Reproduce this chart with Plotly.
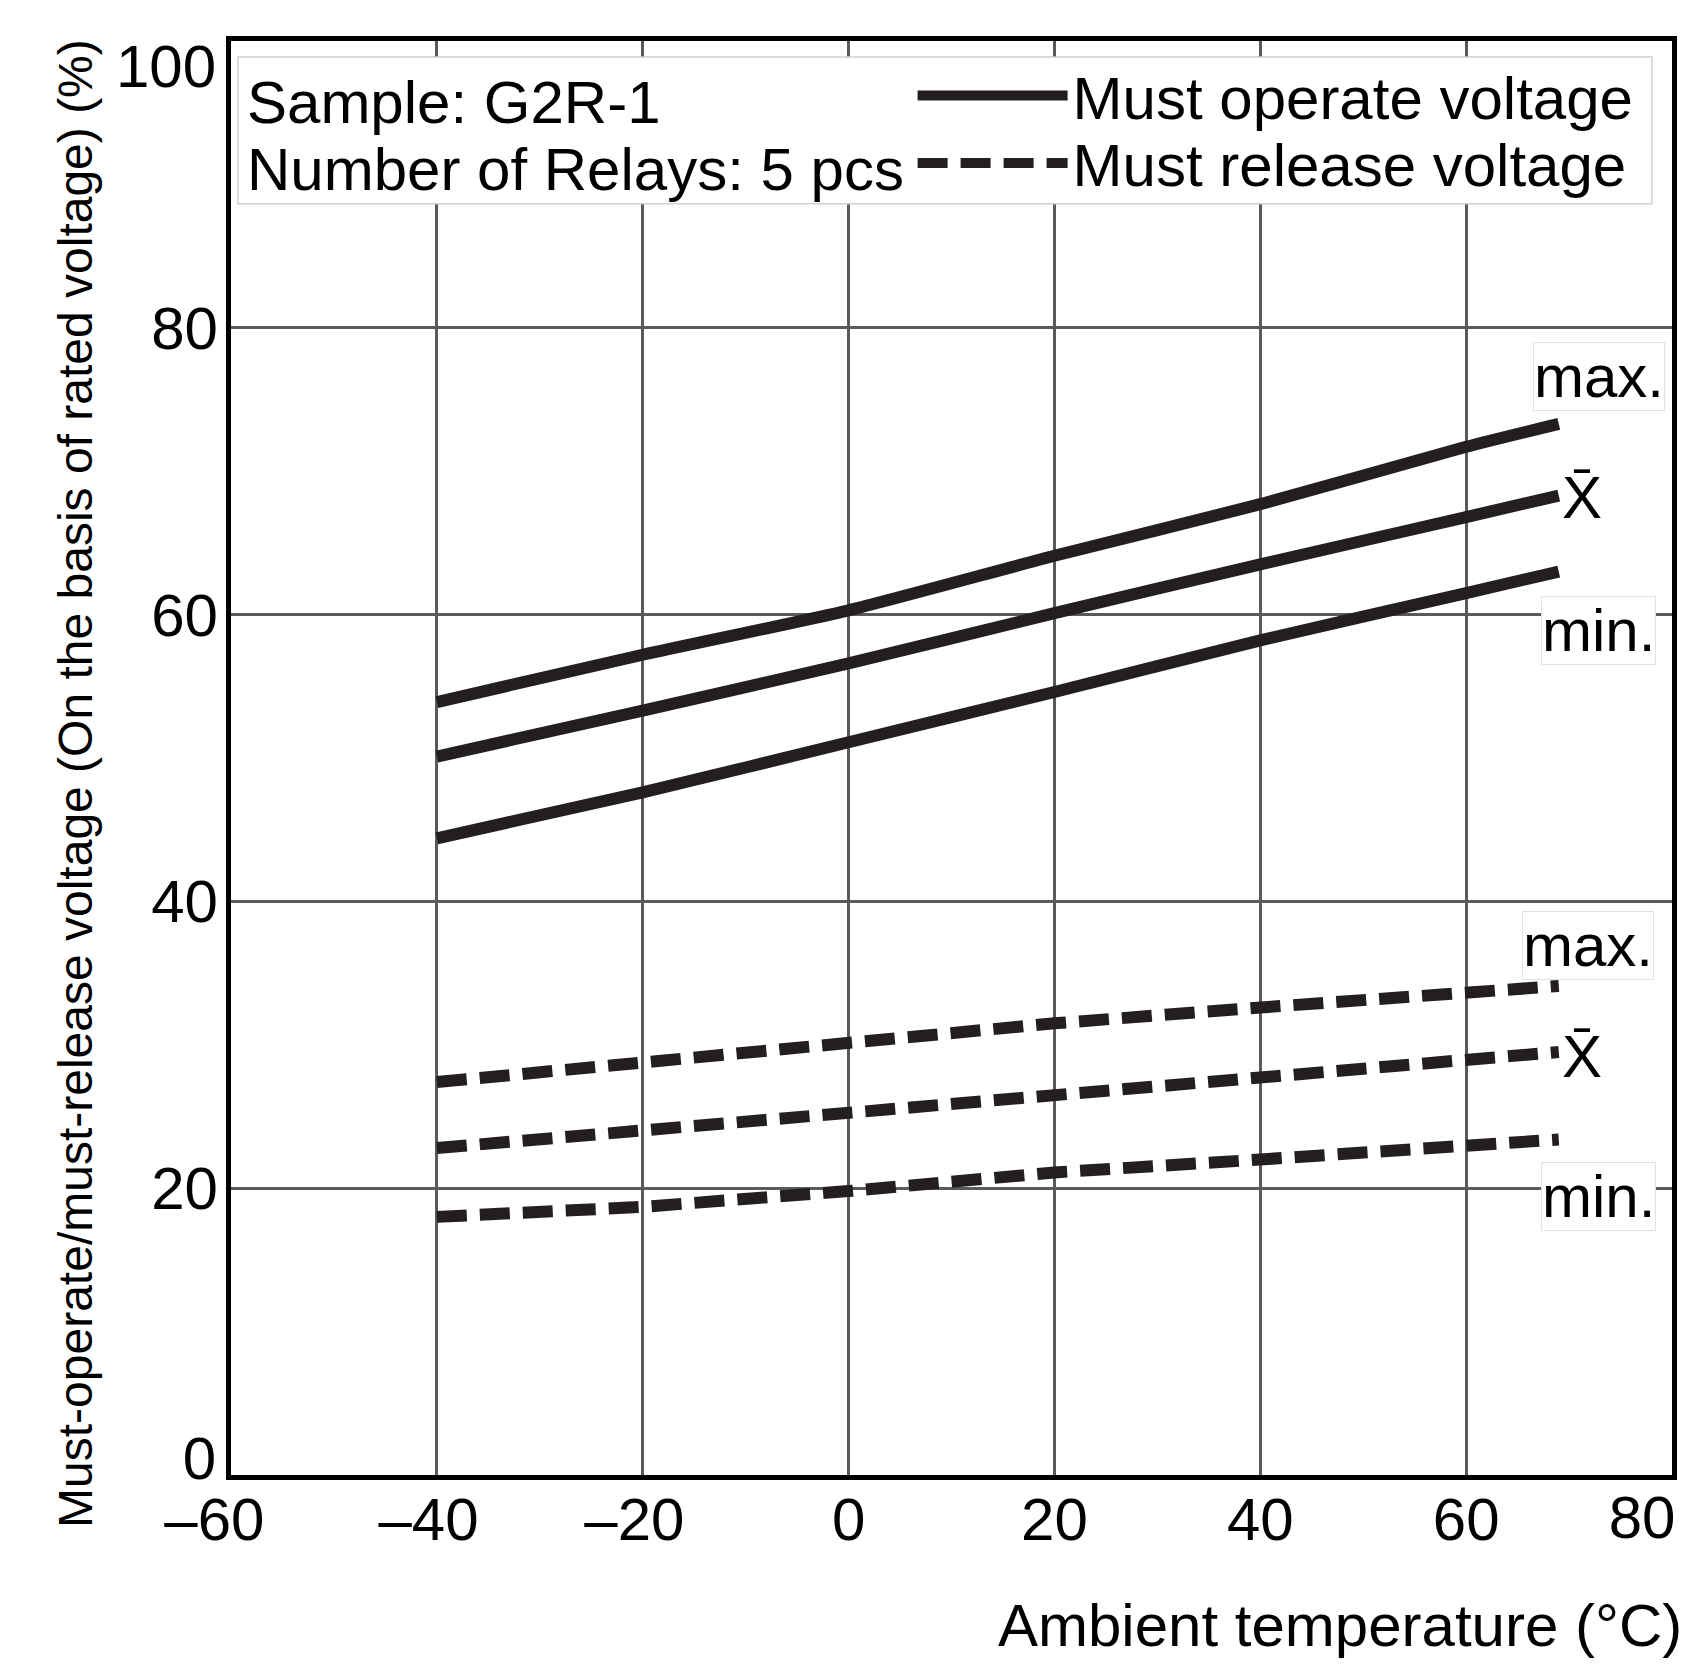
import plotly.graph_objects as go

temps = [-40, -20, 0, 20, 40, 60, 69]
operate_max = [53.9, 57.2, 60.3, 64.1, 67.7, 71.7, 73.3]
operate_mean = [50.1, 53.3, 56.6, 60.1, 63.5, 66.8, 68.3]
operate_min = [44.4, 47.6, 51.1, 54.6, 58.2, 61.5, 63.0]
release_max = [27.4, 28.8, 30.2, 31.5, 32.6, 33.7, 34.1]
release_mean = [22.8, 24.0, 25.3, 26.6, 27.8, 29.0, 29.5]
release_min = [18.0, 18.7, 19.8, 21.1, 22.0, 23.0, 23.4]

x_ticks_main = [-60, -40, -20, 0, 20, 40, 60]
x_ticktext_main = ["\u201360\u00a0\u00a0", "\u201340\u00a0", "\u201320\u00a0", "0", "20", "40", "60"]
x_tick_end = [80]
y_ticks_mid = [20, 40, 60, 80]
y_tick_bottom = [0]
y_tick_top = [100]

FONT = "Liberation Sans, Arial, Helvetica, sans-serif"
LINE_COLOR = "#231f20"
FS = 60

fig = go.Figure()

op_series = [operate_max, operate_mean, operate_min]
for i, ys in enumerate(op_series):
    fig.add_trace(go.Scatter(
        x=temps, y=ys, mode="lines",
        line=dict(color=LINE_COLOR, width=12, shape="spline", smoothing=0.6),
        name="Must operate voltage", legend="legend", legendgroup="op", showlegend=(i == 0),
    ))

# release curves (spread over overlaid axes that carry the edge tick labels)
rel_series = [(release_max, "x", "y2"), (release_mean, "x", "y3"), (release_min, "x2", "y")]
for i, (ys, xa, ya) in enumerate(rel_series):
    fig.add_trace(go.Scatter(
        x=temps, y=ys, mode="lines", xaxis=xa, yaxis=ya,
        line=dict(color=LINE_COLOR, width=12, dash="30px,13px"),
        name="Must release voltage", legend="legend2", legendgroup="rel", showlegend=(i == 0),
    ))

W, H = 1694, 1673
L, R, T, B = 231, 22, 41, 198

tickfont = dict(family=FONT, size=FS, color="black")
axis_common = dict(
    showline=True, linecolor="black", linewidth=5, mirror=True,
    showgrid=True, gridcolor="#5a5a5a", gridwidth=3, zeroline=False,
    ticks="", tickfont=tickfont, automargin=False,
)

label_font = dict(family=FONT, size=FS, color="black")
annotations = [
    dict(x=1.008, y=-0.105, xref="paper", yref="paper", xanchor="right", yanchor="middle",
         text="Ambient temperature (\u00b0C)", showarrow=False, font=label_font),
    dict(x=-0.1075, y=0.482, xref="paper", yref="paper", xanchor="center", yanchor="middle",
         textangle=-90, text="Must-operate/must-release voltage (On the basis of rated voltage) (%)",
         showarrow=False, font=dict(family=FONT, size=48, color="black")),
    dict(x=0.0095, y=0.9570, xref="paper", yref="paper", xanchor="left", yanchor="middle",
         text="Sample: G2R-1", showarrow=False, font=label_font),
    dict(x=0.0095, y=0.9105, xref="paper", yref="paper", xanchor="left", yanchor="middle",
         text="Number of Relays: 5 pcs", showarrow=False, font=label_font),
]

side_labels = [
    (72.9, 76.6, "max.", True),
    (71.3, 68.2, "X\u0304", False),
    (72.9, 58.9, "min.", True),
    (71.8, 36.9, "max.", True),
    (71.3, 29.2, "X\u0304", False),
    (72.9, 19.4, "min.", True),
]
for x, y, t, boxed in side_labels:
    a = dict(x=x, y=y, xref="x", yref="y", text=t, showarrow=False,
             xanchor="center", yanchor="middle", font=label_font)
    if boxed:
        a.update(bgcolor="white", bordercolor="#e2e2e2", borderwidth=1, borderpad=0)
    annotations.append(a)

shapes = [
    dict(type="rect", xref="paper", yref="paper", x0=0.0048, x1=0.986, y0=0.8865, y1=0.9889,
         fillcolor="white", line=dict(color="#d0d0d0", width=1.5), layer="above"),
]

legend_common = dict(xanchor="left", yanchor="middle", bgcolor="rgba(0,0,0,0)", borderwidth=0,
                     font=dict(family=FONT, size=FS, color="black"), itemwidth=150,
                     tracegroupgap=0)

extra_y = dict(overlaying="y", matches="y", side="left", anchor="x", showgrid=False,
               showline=False, zeroline=False, ticks="", tickfont=tickfont, automargin=False,
               ticklabelstandoff=14)

fig.update_layout(
    width=W, height=H,
    margin=dict(l=L, r=R, t=T, b=B),
    paper_bgcolor="white", plot_bgcolor="white",
    font=dict(family=FONT, color="black"),
    annotations=annotations, shapes=shapes,
    xaxis=dict(range=[-60, 80], tickvals=x_ticks_main, ticktext=x_ticktext_main,
               ticklabelstandoff=-12, ticklabeloverflow="allow", **axis_common),
    xaxis2=dict(range=[-60, 80], matches="x", overlaying="x", side="bottom", anchor="y",
                tickvals=x_tick_end, ticklabelshift=-30, ticklabelstandoff=2,
                showgrid=False, showline=False, zeroline=False, ticks="",
                tickfont=tickfont, automargin=False),
    yaxis=dict(range=[0, 100], tickvals=y_ticks_mid, ticklabelstandoff=-4, **axis_common),
    yaxis2=dict(range=[0, 100], tickvals=y_tick_bottom, ticklabelshift=-17, **extra_y),
    yaxis3=dict(range=[0, 100], tickvals=y_tick_top, ticklabelshift=25, **extra_y),
    legend=dict(x=0.4730, y=0.9620, **legend_common),
    legend2=dict(x=0.4730, y=0.9150, **legend_common),
    showlegend=True,
)

fig.write_html("out.html", post_script="document.body.style.margin='0';",
               config={"displayModeBar": False})
